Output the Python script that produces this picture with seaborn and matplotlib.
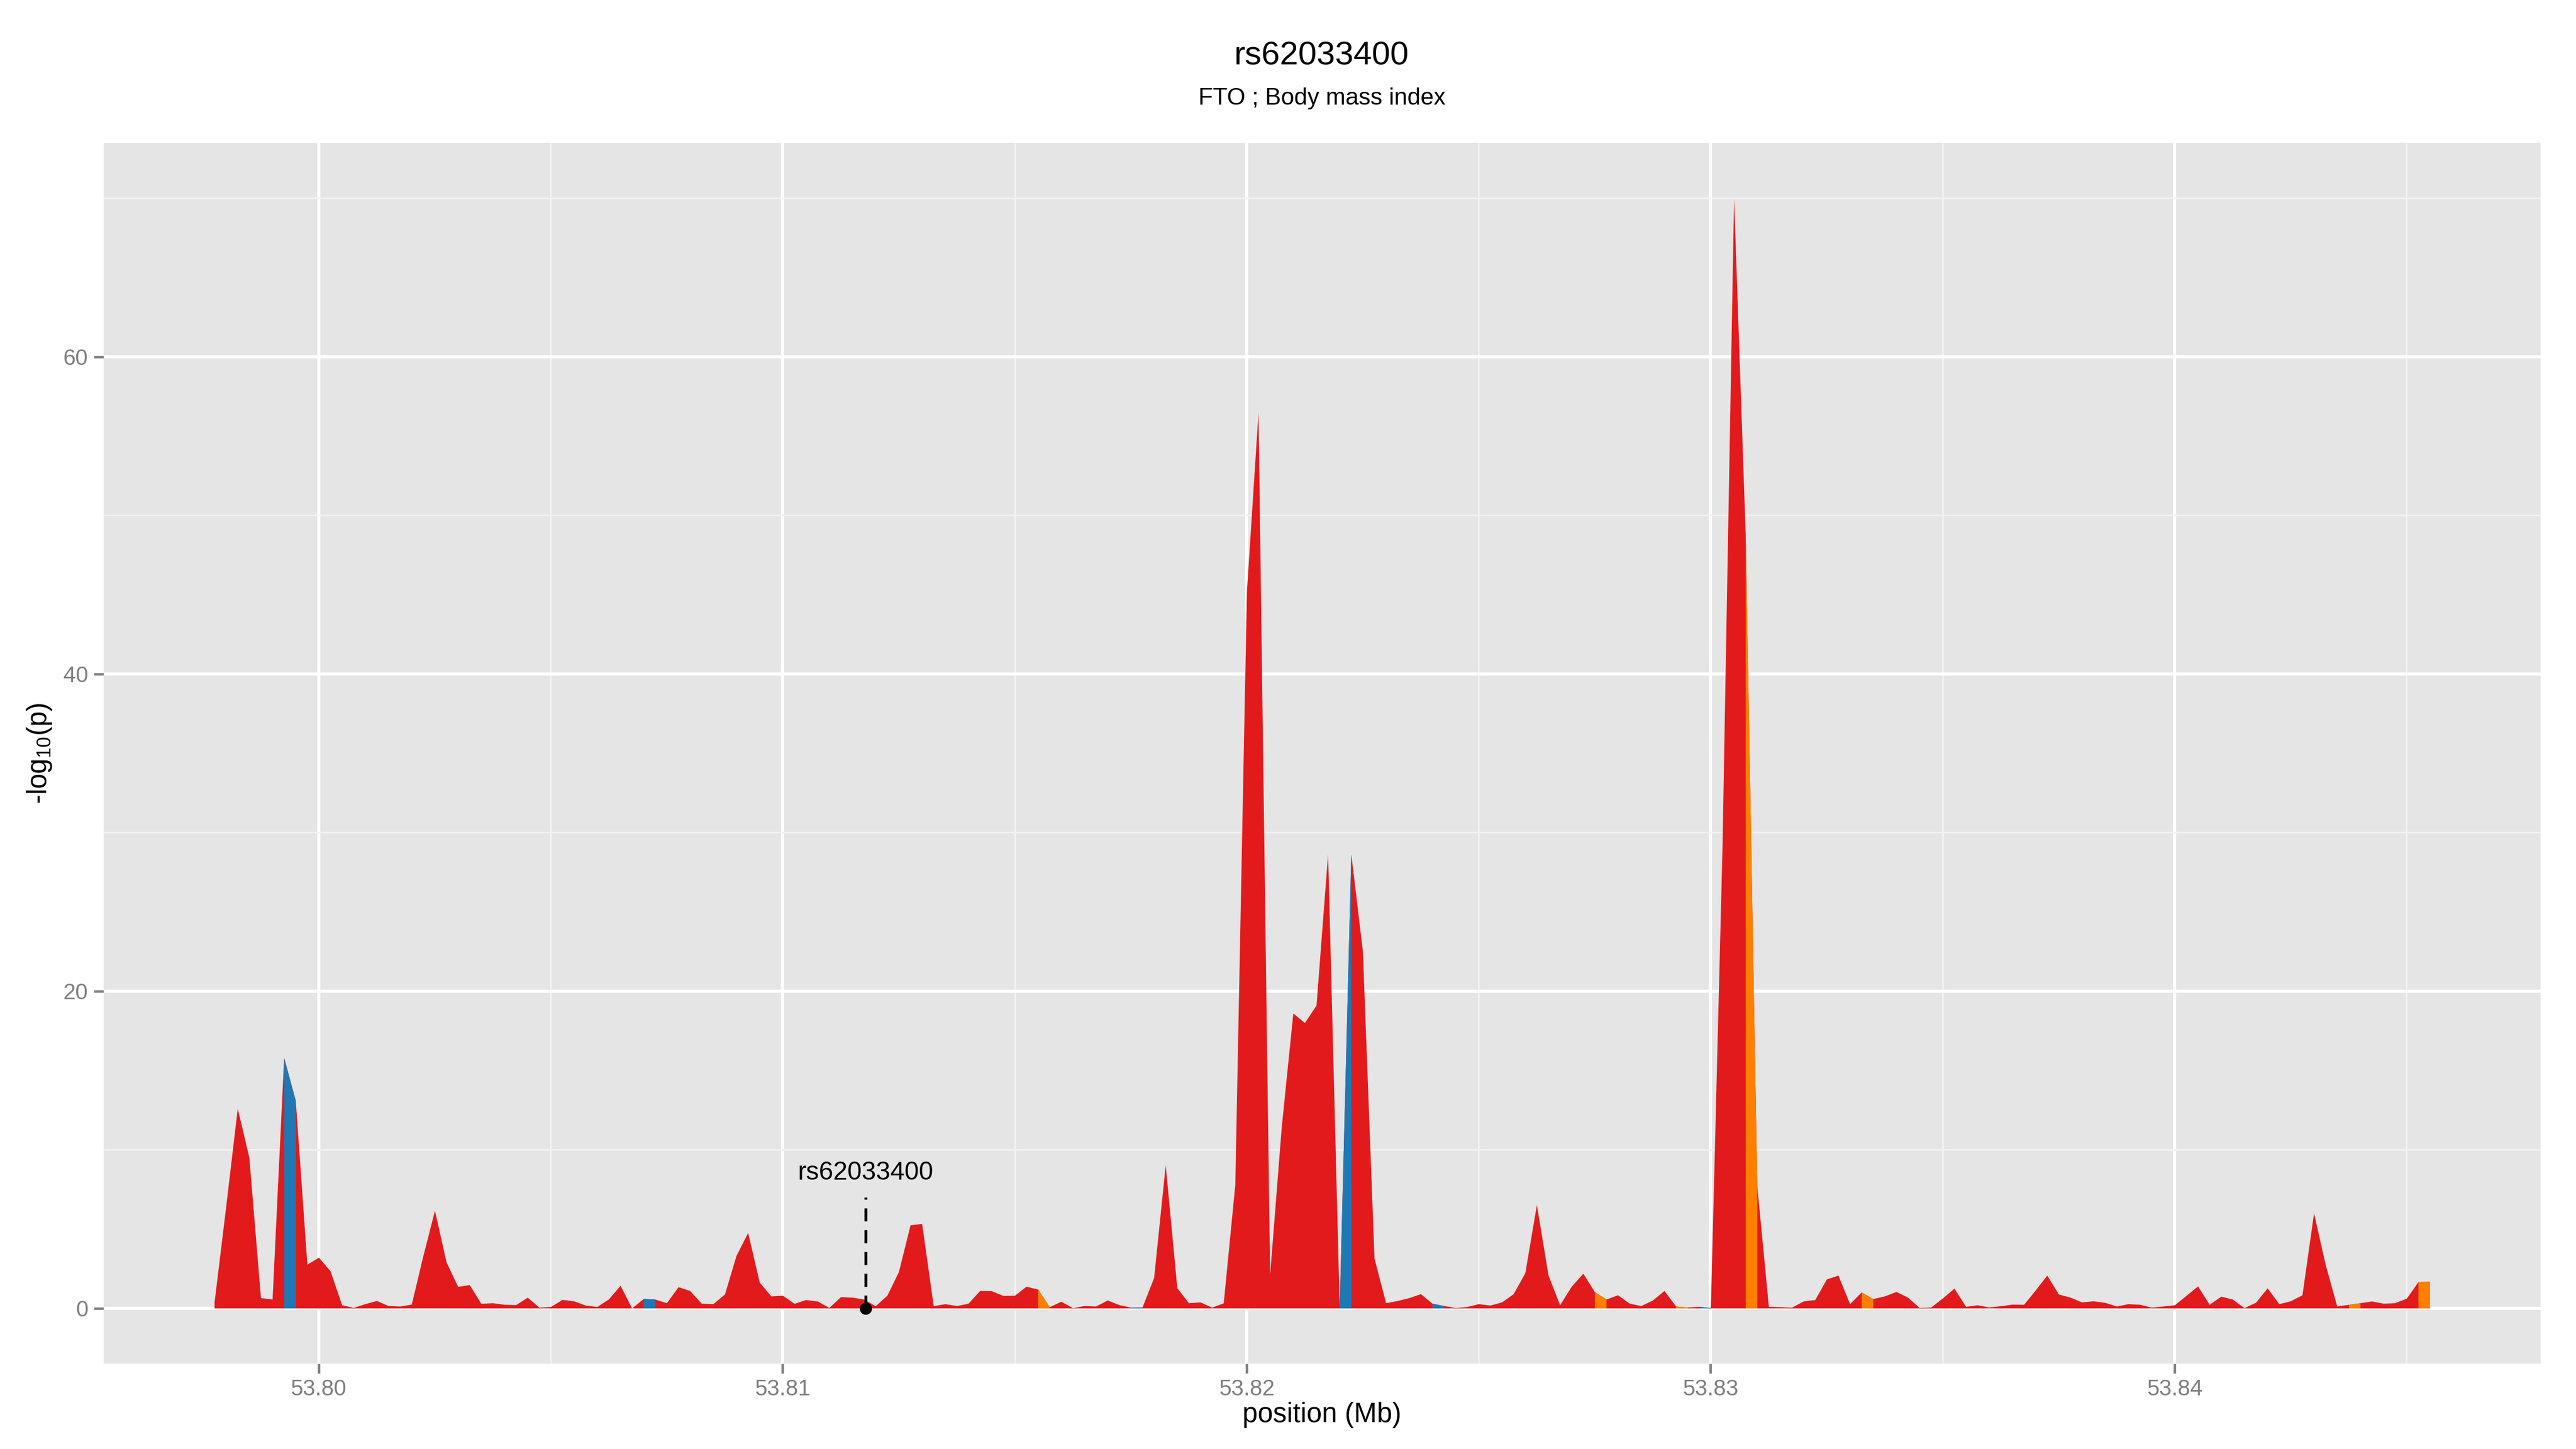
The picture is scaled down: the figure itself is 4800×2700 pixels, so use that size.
import numpy as np
import matplotlib
matplotlib.use("Agg")
import matplotlib.pyplot as plt
import seaborn as sns
from matplotlib.ticker import FixedLocator, MultipleLocator, FormatStrFormatter

# -log10(p) along the region, one value every 250 bp
pos_start_mb = 53.79775
pos_step_mb = 0.00025
logp = [
    0.38, 6.4, 12.6, 9.5, 0.65, 0.56, 15.8, 13.1, 2.76, 3.2,
    2.34, 0.2, 0.03, 0.27, 0.47, 0.15, 0.12, 0.24, 3.3, 6.16,
    2.9, 1.36, 1.47, 0.29, 0.33, 0.23, 0.21, 0.68, 0.05, 0.09,
    0.54, 0.45, 0.18, 0.09, 0.57, 1.43, 0.0, 0.6, 0.56, 0.33,
    1.34, 1.1, 0.3, 0.27, 0.88, 3.32, 4.76, 1.63, 0.76, 0.8,
    0.29, 0.53, 0.44, 0.03, 0.71, 0.68, 0.56, 0.14, 0.8, 2.3,
    5.24, 5.33, 0.14, 0.27, 0.15, 0.3, 1.1, 1.09, 0.79, 0.8,
    1.37, 1.19, 0.08, 0.42, 0.02, 0.15, 0.12, 0.5, 0.21, 0.05,
    0.06, 1.92, 9.03, 1.28, 0.33, 0.38, 0.05, 0.32, 7.8, 45.2,
    56.5, 2.1, 11.4, 18.6, 18.0, 19.1, 28.65, 0.02, 28.65, 22.5,
    3.14, 0.33, 0.47, 0.65, 0.9, 0.3, 0.15, 0.03, 0.09, 0.27,
    0.18, 0.38, 0.9, 2.22, 6.52, 2.08, 0.2, 1.37, 2.19, 1.03,
    0.56, 0.83, 0.3, 0.15, 0.5, 1.1, 0.12, 0.06, 0.1, 0.03,
    29.0, 70.0, 48.8, 7.7, 0.1, 0.08, 0.05, 0.44, 0.53, 1.83,
    2.07, 0.27, 1.01, 0.59, 0.76, 1.04, 0.68, 0.03, 0.06, 0.63,
    1.25, 0.1, 0.2, 0.06, 0.14, 0.24, 0.23, 1.13, 2.07, 0.88,
    0.68, 0.38, 0.45, 0.35, 0.12, 0.27, 0.23, 0.05, 0.12, 0.2,
    0.79, 1.39, 0.23, 0.74, 0.56, 0.02, 0.36, 1.27, 0.27, 0.45,
    0.83, 6.0, 2.75, 0.12, 0.23, 0.33, 0.44, 0.3, 0.33, 0.62,
    1.66, 1.69,
]

# segments (start index) that carry another annotation class
blue_segments = [6, 37, 79, 97, 105, 128]
orange_segments = [71, 119, 126, 132, 142, 184, 190]

# highlighted SNP
snp_name = "rs62033400"
snp_pos = 53.81179
snp_line_top = 7.0
snp_label_y = 8.1

title = "rs62033400"
subtitle = "FTO ; Body mass index"
x_ticks = [53.80, 53.81, 53.82, 53.83, 53.84]
y_ticks = [0, 20, 40, 60]

RED = "#E31A1C"
BLUE = "#1F78B4"
ORANGE = "#FF7F00"
GREY50 = "#7F7F7F"

sns.set_theme(style="darkgrid", rc={"axes.facecolor": "#E5E5E5",
                                    "grid.color": "white",
                                    "figure.facecolor": "white"})
plt.rcParams["font.family"] = ["Liberation Sans", "DejaVu Sans"]

pos = pos_start_mb + pos_step_mb * np.arange(len(logp))
logp = np.array(logp)

fig = plt.figure(figsize=(16, 9), dpi=300)
ax = fig.add_axes([0.0402, 0.0589, 0.94605, 0.8426])

# whole area in red, then overlay the other classes segment by segment
ax.fill_between(pos, 0, logp, color=RED, linewidth=0, zorder=2)
for idx in blue_segments:
    ax.fill_between(pos[idx:idx + 2], 0, logp[idx:idx + 2], color=BLUE, linewidth=0, zorder=3)
for idx in orange_segments:
    ax.fill_between(pos[idx:idx + 2], 0, logp[idx:idx + 2], color=ORANGE, linewidth=0, zorder=3)

# SNP marker
ax.vlines(snp_pos, 0, snp_line_top, colors="black", linewidth=1.3,
          linestyles=(0, (4.5, 3.0)), zorder=4)
sns.scatterplot(x=[snp_pos], y=[0], color="black", s=30, linewidth=0, ax=ax, zorder=5)
ax.text(snp_pos, snp_label_y, snp_name, ha="center", va="baseline", fontsize=11.5, color="black")

ax.set_xlim(53.795363, 53.847888)
ax.set_ylim(-3.5, 73.5)
ax.xaxis.set_major_locator(FixedLocator(x_ticks))
ax.xaxis.set_major_formatter(FormatStrFormatter("%.2f"))
ax.xaxis.set_minor_locator(MultipleLocator(0.005))
ax.yaxis.set_major_locator(FixedLocator(y_ticks))
ax.yaxis.set_minor_locator(MultipleLocator(10))

ax.set_axisbelow(True)
ax.grid(which="major", color="white", linewidth=1.4)
ax.grid(which="minor", color="#F2F2F2", linewidth=0.7)
for sp in ax.spines.values():
    sp.set_visible(False)

ax.tick_params(which="major", bottom=True, left=True, length=4.3, width=1.1,
               color=GREY50, labelcolor=GREY50, labelsize=10, pad=2.5)
ax.tick_params(which="minor", length=0)

ax.set_xlabel("position (Mb)", fontsize=12.3, color="black", va="center")
ax.xaxis.set_label_coords(0.5, -0.0418)
ax.set_ylabel(r"-log$_{\mathregular{10}}$(p)", fontsize=12.3, color="black", va="center")
ax.yaxis.set_label_coords(-0.0264, 0.5)

fig.text(0.5131, 1 - 120.5 / 2700, title, ha="center", va="baseline", fontsize=14.8, color="black")
fig.text(0.5131, 1 - 195 / 2700, subtitle, ha="center", va="baseline", fontsize=10.6, color="black")

fig.savefig("out.png", dpi=300)
